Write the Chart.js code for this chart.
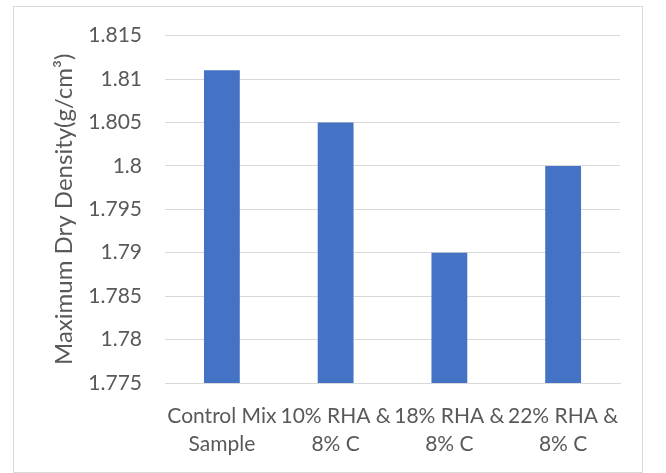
<!DOCTYPE html>
<html>
<head>
<meta charset="utf-8">
<script src="https://cdn.jsdelivr.net/npm/chart.js@4/dist/chart.umd.min.js"></script>
<style>
  html, body { margin: 0; padding: 0; background: #fff; }
  #wrap { width: 666px; height: 473px; position: relative; }
</style>
</head>
<body>
<div id="wrap"><canvas id="c" width="666" height="473"></canvas></div>
<script>
// Mix designs and their maximum dry density (g/cm³)
const categories = [['Control Mix', 'Sample'], ['10% RHA &', '8% C'], ['18% RHA &', '8% C'], ['22% RHA &', '8% C']];
const densities = [1.811, 1.805, 1.790, 1.800];
const yMin = 1.775;
const yMax = 1.815;
const yStep = 0.005;

const FONT = 'Lato, "Open Sans", sans-serif';
const TEXT = '#595959';
const GRID = '#D9D9D9';

// thin grey frame round the whole chart
const framePlugin = {
  id: 'frame',
  afterDraw(chart) {
    const ctx = chart.ctx;
    ctx.save();
    ctx.strokeStyle = '#D9D9D9';
    ctx.lineWidth = 1;
    ctx.strokeRect(13.5, 6.5, 629, 466);
    ctx.restore();
  }
};

new Chart(document.getElementById('c'), {
  type: 'bar',
  data: {
    labels: categories,
    datasets: [{
      data: densities,
      backgroundColor: '#4472C4',
      borderWidth: 0,
      categoryPercentage: 1,
      barPercentage: 0.315
    }]
  },
  options: {
    responsive: false,
    animation: false,
    layout: { padding: { left: 14, top: 35, right: 46, bottom: 0 } },
    plugins: { legend: { display: false }, tooltip: { enabled: false } },
    scales: {
      x: {
        grid: { display: false, drawTicks: false },
        border: { display: true, color: GRID, width: 1 },
        ticks: { color: TEXT, font: { family: FONT, size: 21, lineHeight: 1.3 }, padding: 20, maxRotation: 0, autoSkip: false },
        afterFit(scale) { scale.height = 90; }
      },
      y: {
        min: yMin,
        max: yMax,
        grid: { color: GRID, drawTicks: false },
        border: { display: false },
        ticks: {
          stepSize: yStep,
          color: TEXT,
          font: { family: FONT, size: 21 },
          padding: 23,
          callback: v => String(Number(v.toFixed(3)))
        },
        title: {
          display: true,
          text: 'Maximum Dry Density(g/cm³)',
          color: TEXT,
          font: { family: FONT, size: 24 },
          padding: { top: 36, bottom: 0 }
        },
        afterFit(scale) { scale.width = 151; }
      }
    }
  },
  plugins: [framePlugin]
});
</script>
</body>
</html>
